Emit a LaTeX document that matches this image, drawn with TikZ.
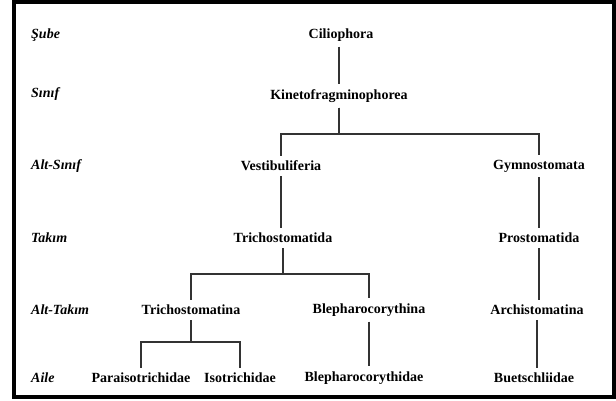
\documentclass[tikz,border=0pt]{standalone}
\usepackage{fontspec}
\setmainfont{Liberation Serif}
\begin{document}
\begin{tikzpicture}[x=1pt,y=-1pt,
  tx/.style={font=\fontsize{14}{16}\selectfont\bfseries, inner xsep=2pt, inner ysep=5pt},
  rk/.style={font=\fontsize{14}{16}\selectfont\bfseries\itshape, anchor=west, inner sep=0pt},
  ln/.style={line width=1.3pt, draw=black!80}]
\useasboundingbox (0,0) rectangle (616,400);
\draw[line width=4pt] (14,2) rectangle (614,397);
% rank labels
\node[rk] (r1) at (31,35) {Şube};
\node[rk] (r2) at (31,94) {Sınıf};
\node[rk] (r3) at (31,166) {Alt-Sınıf};
\node[rk] (r4) at (31,238) {Takım};
\node[rk] (r5) at (31,310) {Alt-Takım};
\node[rk] (r6) at (31,378) {Aile};
% taxa
\node[tx] (cil) at (341,35) {Ciliophora};
\node[tx] (kin) at (339,96) {Kinetofragminophorea};
\node[tx] (ves) at (281,166) {Vestibuliferia};
\node[tx] (gym) at (539,166) {Gymnostomata};
\node[tx] (tri) at (283,238) {Trichostomatida};
\node[tx] (pro) at (539,238) {Prostomatida};
\node[tx] (trn) at (191,310) {Trichostomatina};
\node[tx] (ble) at (369,310) {Blepharocorythina};
\node[tx] (arc) at (537,310) {Archistomatina};
\node[tx] (par) at (141,378) {Paraisotrichidae};
\node[tx] (iso) at (240,378) {Isotrichidae};
\node[tx] (bld) at (364,378) {Blepharocorythidae};
\node[tx] (bue) at (534,378) {Buetschliidae};
% connectors
\draw[ln] (cil.south -| kin) -- (kin.north);
\draw[ln] (kin.south) |- (ves.north |- 0,134) -- (ves.north);
\draw[ln] (kin.south) |- (gym.north |- 0,134) -- (gym.north);
\draw[ln] (ves.south) -- (ves.south |- tri.north);
\draw[ln] (gym.south) -- (gym.south |- pro.north);
\draw[ln] (tri.south) |- (trn.north |- 0,274) -- (trn.north);
\draw[ln] (tri.south) |- (ble.north |- 0,274) -- (ble.north);
\draw[ln] (pro.south) -- (pro.south |- arc.north);
\draw[ln] (trn.south) |- (par.north |- 0,342) -- (par.north);
\draw[ln] (trn.south) |- (iso.north |- 0,342) -- (iso.north);
\draw[ln] (ble.south) -- (ble.south |- bld.north);
\draw[ln] (arc.south) -- (arc.south |- bue.north);
\end{tikzpicture}
\end{document}
